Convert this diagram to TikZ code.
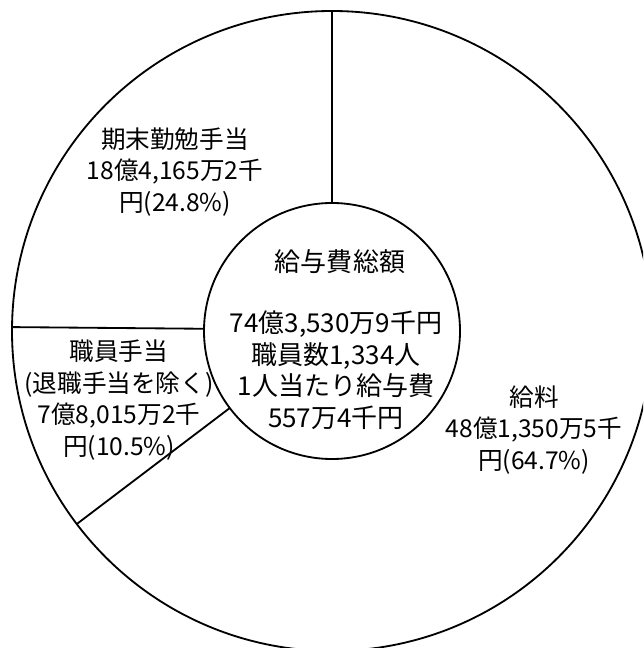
\documentclass[tikz,border=0pt]{standalone}
\usepackage{fontspec}
\setmainfont{Noto Sans CJK JP}
\begin{document}
\begin{tikzpicture}[
		slice/.style={line width=1.3pt},
		slicetext/.style={align=center, inner sep=0pt, font=\fontsize{17.5}{22.5}\selectfont},
		centretext/.style={align=center, inner sep=0pt, font=\fontsize{18.5}{22.5}\selectfont}
	]
		\useasboundingbox (-8.3,-7.925) rectangle (7.775,8.275);
		\clip (-8.3,-7.925) rectangle (7.775,8.275);
		% Main shape
		\draw[slice] (0,0) circle (8);
		\node[slice, draw, circle, minimum size=6.4cm, inner sep=0pt] (total) at (0,0) {};
		% Slice borders
		\coordinate (top) at (90:8);
		\coordinate (left) at (179.3:8);
		\coordinate (lowleft) at (217.1:8);
		\draw[slice] (total.90) -- (top);
		\draw[slice] (total.179.3) -- (left);
		\draw[slice] (total.217.1) -- (lowleft);
		% Labels
		\node[slicetext] (bonus) at (-3.925,3.975) {期末勤勉手当\\18億4,165万2千\\円(24.8\%)};
		\node[slicetext] (allowance) at (-5.325,-1.725) {職員手当\\(退職手当を除く)\\7億8,015万2千\\円(10.5\%)};
		\node[slicetext] (salary) at (5.05,-2.475) {給料\\48億1,350万5千\\円(64.7\%)};
		% Centre text
		\node[centretext] (title) at (0.2,1.725) {給与費総額};
		\node[centretext] (sum) at (0.1,-0.975) {74億3,530万9千円\\職員数1,334人\\1人当たり給与費\\557万4千円};
	\end{tikzpicture}
\end{document}
